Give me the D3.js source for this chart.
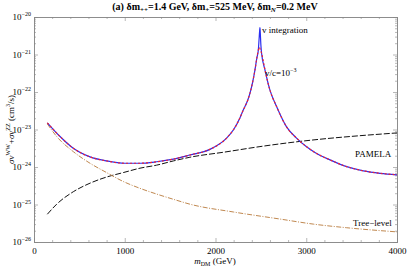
<!DOCTYPE html>
<html>
<head>
<meta charset="utf-8">
<script src="https://cdn.jsdelivr.net/npm/d3@7"></script>
<style>
  body { margin: 0; background: #fff; }
  svg { display: block; font-family: "Liberation Serif", "DejaVu Serif", serif; }
</style>
</head>
<body>
<div id="chart"></div>
<script>
const w = 407;
const h = 267;
const margin = {left: 34, right: 10, top: 17, bottom: 25};

// data (m in GeV, sigma v in cm^3/s)
const vcMass = [147, 287, 433, 617, 800, 1002, 1168, 1351, 1535, 1718, 1938, 2122, 2200, 2269, 2306, 2357, 2380, 2435, 2455, 2472, 2483, 2495, 2508, 2545, 2600, 2673, 2783, 2893, 3000, 3100, 3262, 3446, 3629, 3813, 4000];
const vcVal = [1.51e-23, 6.5e-24, 3.16e-24, 1.86e-24, 1.45e-24, 1.26e-24, 1.26e-24, 1.38e-24, 1.62e-24, 2.09e-24, 2.95e-24, 5.9e-24, 1.0e-23, 2.04e-23, 3.3e-23, 6.2e-23, 9.3e-23, 3.9e-22, 7.9e-22, 1.32e-21, 1.55e-21, 1.32e-21, 1.07e-21, 3.9e-22, 1.12e-22, 4.1e-23, 1.17e-23, 5.9e-24, 3.5e-24, 2.4e-24, 1.55e-24, 1.02e-24, 7.9e-25, 6.8e-25, 6.2e-25];

const intMass = [147, 287, 433, 617, 800, 1002, 1168, 1351, 1535, 1718, 1938, 2122, 2200, 2269, 2306, 2357, 2380, 2435, 2455, 2472, 2480, 2487, 2490, 2493, 2500, 2508, 2545, 2600, 2673, 2783, 2893, 3000, 3100, 3262, 3446, 3629, 3813, 4000];
const intVal = [1.51e-23, 6.5e-24, 3.16e-24, 1.86e-24, 1.45e-24, 1.26e-24, 1.26e-24, 1.38e-24, 1.62e-24, 2.09e-24, 2.95e-24, 5.9e-24, 1.0e-23, 2.04e-23, 3.3e-23, 6.2e-23, 9.3e-23, 3.9e-22, 7.9e-22, 1.32e-21, 2.5e-21, 4.5e-21, 5.2e-21, 4.0e-21, 1.8e-21, 1.07e-21, 3.9e-22, 1.12e-22, 4.1e-23, 1.17e-23, 5.9e-24, 3.5e-24, 2.4e-24, 1.55e-24, 1.02e-24, 7.9e-25, 6.8e-25, 6.2e-25];

const treeMass = [147, 250, 433, 617, 800, 984, 1168, 1351, 1535, 1718, 2200, 2709, 3078, 3446, 4000];
const treeVal = [1.41e-23, 6.5e-24, 2.57e-24, 1.26e-24, 7.1e-25, 4.1e-25, 2.7e-25, 1.9e-25, 1.38e-25, 1.02e-25, 6.3e-26, 4.1e-26, 3.0e-26, 2.4e-26, 1.86e-26];

const pamelaMass = [147, 250, 433, 617, 800, 984, 1168, 1351, 1535, 1718, 2100, 2490, 3152, 3482, 4000];
const pamelaVal = [5.5e-26, 1.02e-25, 2.19e-25, 3.7e-25, 5.4e-25, 7.1e-25, 9.3e-25, 1.12e-24, 1.45e-24, 1.82e-24, 2.5e-24, 3.5e-24, 5.5e-24, 6.5e-24, 8.1e-24];

const xTicks = [0, 1000, 2000, 3000, 4000];
const yExps = [-26, -25, -24, -23, -22, -21, -20];

const svg = d3.select('#chart').append('svg')
  .attr('width', w).attr('height', h);

const x = d3.scaleLinear().domain([0, 4000]).range([margin.left, w - margin.right]);
const y = d3.scaleLog().domain([1e-26, 1e-20]).range([h - margin.bottom, margin.top]);

// minor ticks
const xMinor = d3.range(0, 4001, 200).filter(v => v % 1000 !== 0);
const yMinor = [];
yExps.slice(0, -1).forEach(e => { for (let k = 2; k < 10; k++) yMinor.push(k * Math.pow(10, e)); });
const yMajor = yExps.map(e => Math.pow(10, e));

const frameCol = '#888';

function styleAxis(g) {
  g.select('.domain').attr('stroke', frameCol).attr('stroke-width', 0.8);
  g.selectAll('.tick line').attr('stroke', frameCol).attr('stroke-width', 0.6);
  g.selectAll('text').attr('fill', '#000').attr('font-family', '"Liberation Serif", serif').attr('font-size', 9);
}

// bottom
svg.append('g').attr('transform', `translate(0,${h - margin.bottom})`)
  .call(d3.axisBottom(x).tickValues(xTicks).tickSize(-4).tickPadding(6).tickFormat(d3.format('d')))
  .call(styleAxis);
svg.append('g').attr('transform', `translate(0,${h - margin.bottom})`)
  .call(d3.axisBottom(x).tickValues(xMinor).tickSize(-2).tickFormat(''))
  .call(styleAxis);
// top
svg.append('g').attr('transform', `translate(0,${margin.top})`)
  .call(d3.axisTop(x).tickValues(xTicks).tickSize(-4).tickFormat(''))
  .call(styleAxis);
svg.append('g').attr('transform', `translate(0,${margin.top})`)
  .call(d3.axisTop(x).tickValues(xMinor).tickSize(-2).tickFormat(''))
  .call(styleAxis);
// left
svg.append('g').attr('transform', `translate(${margin.left},0)`)
  .call(d3.axisLeft(y).tickValues(yMajor).tickSize(-4).tickFormat(''))
  .call(styleAxis);
svg.append('g').attr('transform', `translate(${margin.left},0)`)
  .call(d3.axisLeft(y).tickValues(yMinor).tickSize(-2).tickFormat(''))
  .call(styleAxis);
// right
svg.append('g').attr('transform', `translate(${w - margin.right},0)`)
  .call(d3.axisRight(y).tickValues(yMajor).tickSize(-4).tickFormat(''))
  .call(styleAxis);
svg.append('g').attr('transform', `translate(${w - margin.right},0)`)
  .call(d3.axisRight(y).tickValues(yMinor).tickSize(-2).tickFormat(''))
  .call(styleAxis);

// y tick labels as 10^n
yExps.forEach(e => {
  const t = svg.append('text')
    .attr('x', margin.left - 3).attr('y', y(Math.pow(10, e)) + 3)
    .attr('text-anchor', 'end').attr('font-size', 9);
  t.append('tspan').text('10');
  t.append('tspan').attr('dy', -4).attr('font-size', 6).text('\u2212' + Math.abs(e));
});

// curves
const line = d3.line().x(d => x(d[0])).y(d => y(d[1])).curve(d3.curveMonotoneX);
const zip = (a, b) => a.map((v, i) => [v, b[i]]);

svg.append('path').datum(zip(pamelaMass, pamelaVal))
  .attr('d', line).attr('fill', 'none').attr('stroke', '#111')
  .attr('stroke-width', 1).attr('stroke-dasharray', '6,2');
svg.append('path').datum(zip(treeMass, treeVal))
  .attr('d', line).attr('fill', 'none').attr('stroke', '#c08850')
  .attr('stroke-width', 1).attr('stroke-dasharray', '5,1.5,1,1.5');
svg.append('path').datum(zip(intMass, intVal))
  .attr('d', line).attr('fill', 'none').attr('stroke', '#2a2ef0')
  .attr('stroke-width', 1.2);
svg.append('path').datum(zip(vcMass, vcVal))
  .attr('d', line).attr('fill', 'none').attr('stroke', '#f02030')
  .attr('stroke-width', 1.2).attr('stroke-dasharray', '2,2');

// curve labels
const lab = (tx, ty) => svg.append('text').attr('x', tx).attr('y', ty).attr('font-size', 9);
lab(262, 33).text('v integration');
const vc = lab(265, 76);
vc.append('tspan').text('v/c=10');
vc.append('tspan').attr('dy', -4).attr('font-size', 6).text('\u22123');
lab(355, 157).text('PAMELA');
lab(353, 226).text('Tree\u2212level');

// title
const title = svg.append('text').attr('x', 215).attr('y', 10)
  .attr('text-anchor', 'middle').attr('font-size', 10).attr('font-weight', 'bold');
title.append('tspan').text('(a) \u03b4m');
title.append('tspan').attr('dy', 2).attr('font-size', 7).text('++');
title.append('tspan').attr('dy', -2).text('=1.4 GeV, \u03b4m');
title.append('tspan').attr('dy', 2).attr('font-size', 7).text('+');
title.append('tspan').attr('dy', -2).text('=525 MeV, \u03b4m');
title.append('tspan').attr('dy', 2).attr('font-size', 7).attr('font-style', 'italic').text('N');
title.append('tspan').attr('dy', -2).text('=0.2 MeV');

// x label
const xl = svg.append('text').attr('x', 215).attr('y', 264)
  .attr('text-anchor', 'middle').attr('font-size', 9);
xl.append('tspan').attr('font-style', 'italic').text('m');
xl.append('tspan').attr('dy', 2).attr('font-size', 6).text('DM');
xl.append('tspan').attr('dy', -2).text(' (GeV)');

// y label
const yl = svg.append('text')
  .attr('transform', `translate(14,${(margin.top + h - margin.bottom) / 2}) rotate(-90)`)
  .attr('text-anchor', 'middle').attr('font-size', 9);
yl.append('tspan').attr('font-style', 'italic').text('\u03c3v');
yl.append('tspan').attr('dy', -4).attr('font-size', 6).text('WW');
yl.append('tspan').attr('dy', 4).text('+');
yl.append('tspan').attr('font-style', 'italic').text('\u03c3v');
yl.append('tspan').attr('dy', -4).attr('font-size', 6).text('ZZ');
yl.append('tspan').attr('dy', 4).text(' (cm');
yl.append('tspan').attr('dy', -4).attr('font-size', 6).text('3');
yl.append('tspan').attr('dy', 4).text('/s)');
</script>
</body>
</html>
